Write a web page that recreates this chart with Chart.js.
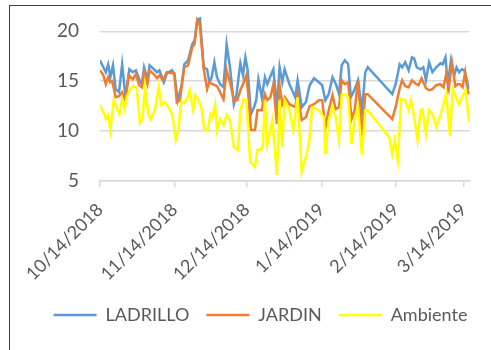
<!DOCTYPE html>
<html><head><meta charset="utf-8">
<script src="https://cdn.jsdelivr.net/npm/chart.js@4/dist/chart.umd.min.js"></script>
<style>
html,body{margin:0;padding:0;background:#fff;}
#wrap{position:relative;width:491px;height:350px;overflow:hidden;}
#frame{position:absolute;left:9px;top:5px;width:600px;height:600px;border-left:1.5px solid #404040;border-top:1.5px solid #404040;pointer-events:none;}
canvas{position:absolute;left:0;top:0;}
</style></head><body>
<div id="wrap"><canvas id="c" width="491" height="350"></canvas><div id="frame"></div></div>
<script>
// x values are days since 10/14/2018
const startDate = '2018-10-14';
const tickLabels = ['10/14/2018','11/14/2018','12/14/2018','1/14/2019','2/14/2019','3/14/2019'];
const seriesNames = ['LADRILLO','JARDIN','Ambiente'];

const ladrilloDays = [0,1.4,2.4,3.4,4.3,5.4,6.5,7.9,9.2,10.6,12.2,13.6,14.9,16.3,17.4,18.3,19.7,20.6,22.4,23.7,24.7,26.5,27.8,29.9,30.9,32.3,33.9,35,36.6,38.3,39.3,40.4,41.5,
 43.1,44.5,45.4,46.4,47.5,48.6,49.9,51.3,52.6,54,55.6,56.7,58.3,59.4,60.4,61.3,62.7,64,64.9,65.8,67.2,68.5,69.5,70.6,72,73.5,74.6,75.7,76.7,78.7,81.1,82.1,83.8,85.5,87.1,88.9,90.9,92.3,
 93.6,95,96.6,98,99.3,100.4,101.7,103.1,104.2,105.8,107.2,108.8,110.2,111.2,121.4,122.8,124.5,125.5,126.8,128.2,129.6,130.5,131.6,133.2,134.3,135.4,136.7,138.1,139.7,141.4,142.4,143.5,144.5,145.8,147.2,148.1,149.2,150.3,151.3,151.9,153.3];
const ladrilloTemps = [17.1,16.4,15.9,16.7,15.4,16.6,14.2,13.9,16.7,13.4,16.2,15.9,16.1,15.2,14.7,16.4,15.2,16.6,16.2,15.9,16.1,14.9,15.8,16.1,15.7,13.1,14.6,16.7,17.1,18.7,19.1,21.2,21.3,
 16.4,16.2,14.9,15.4,16.9,15.4,14.7,14.4,18.7,16.4,12.7,13.7,16.8,15.6,17.4,16.2,11.7,12.4,13.1,15.2,13.4,15.4,14.7,15.4,16.2,12.4,16.4,14.9,16.2,14.7,13.4,15.1,12.4,12.9,14.6,15.3,14.9,14.6,
 13.1,13.7,15.4,14.7,13.7,16.6,17.1,16.7,13.4,14.2,15.1,12.1,15.9,16.4,13.7,14.7,16.7,16.4,16.9,16.1,17.4,17.3,16.4,16.2,16.4,15.1,16.9,15.9,16.4,16.8,16.7,17.4,14.7,17.1,15.6,16.4,15.9,16.2,16.1,15.6,14.2];

const jardinDays = [0,1.4,2.4,3.4,4.3,5.1,6.5,7.9,9.2,10.6,11.9,13.6,14.9,16.3,17.4,18.3,19.7,20.6,22.4,23.7,24.7,26.1,27.8,29.9,30.9,31.9,33.2,35,36.6,38.3,39.3,40.4,41.5,
 43.1,44.5,45.4,46.8,48.6,49.9,51.3,52.6,54.3,55.6,57,58.3,59.4,60.8,61.7,62.7,64.4,65.4,67.2,68.5,69.5,70.8,72,73.5,74.6,75.7,76.8,78.7,81.1,82.1,83.8,85.5,87.1,88.9,90.9,92.3,
 93.6,95,96.6,97.9,99.3,100.4,101.7,103.1,104.5,105.8,107.2,108.8,110.2,111.2,121.4,122.8,124.5,125.5,126.8,128.2,129.6,130.9,132.3,133.6,135.4,136.7,138.1,139.7,141.4,142.7,143.8,144.9,146.2,147.6,148.6,149.5,150.6,151.7,152.6,153.3];
const jardinTemps = [16.1,15.6,14.7,15.4,14.9,15.0,13.4,13.5,13.9,13.1,15.6,15.2,15.7,14.6,14.4,15.9,14.7,16.1,15.7,15.3,15.6,15.1,15.9,15.8,15.8,12.9,13.1,16.4,16.6,18.4,18.7,21.1,20.6,
 16.2,14.2,14.9,14.7,14.5,13.9,13.2,16.1,14.6,13.1,13.1,14.1,14.7,15.6,13.4,10.1,10.1,12.1,12.1,13.7,13.1,13.4,14.7,10.7,14.6,12.7,13.4,12.7,12.4,13.7,11.1,11.4,12.5,12.7,13.1,13.1,
 10.4,12.1,13.6,12.2,12.4,15.1,14.7,14.9,11.2,12.1,15.1,9.4,13.7,13.7,11.2,12.4,14.3,15.1,14.5,14.4,15.1,14.8,14.6,15.3,14.3,14.1,14.2,14.6,14.7,14.4,15.7,14.3,16.9,14.5,14.7,14.7,14.4,15.9,14.1,13.7];

const ambienteDays = [0,1.4,2.4,3.4,4.3,5.7,6.8,8.1,9.2,10.2,11.1,12.5,13.8,15.2,16.6,17.6,18.7,20.1,21,22.8,24.4,25.5,26.9,28.5,30.1,31.5,32.6,33.7,35,36.4,37.3,38.7,39.6,40.7,42.1,
 43.4,44.8,45.9,46.8,47.8,48.6,49.9,51.3,52.6,54,55.6,57.3,58.3,59.7,60.8,62.4,64.4,65.4,66.5,67.6,68.5,69.5,71.6,73.5,74.6,75.7,76.7,78.7,80.3,82.1,83.8,85.5,86.8,88.2,90.9,93,
 93.6,95,96.6,97.9,99.3,100.4,102,103.1,104.5,105.8,107.2,108.8,110.2,111.2,120.1,121.4,122.4,123.7,125.1,126.8,128.2,129.2,130.5,131.9,133.2,134,135.4,136.7,138.1,139.7,141.1,142.4,143.8,145.4,146.5,147.9,149,150.3,151.9,153,153.5];
const ambienteTemps = [12.6,11.9,11.2,11.6,10.1,13.1,12.4,11.7,13.2,12.2,13.4,14.2,14.5,14.4,10.8,11.1,14.4,11.7,11.2,12.1,14.4,12.6,12.9,12.4,11.6,9.1,10.2,12.9,12.8,13.4,14.1,12.1,13.6,13.2,12.4,
 10.1,10.1,11.7,11.4,12.6,10.1,11.2,10.6,11.6,11.1,8.4,8.1,12.1,13.2,13.1,6.9,6.4,8.1,8.1,8.4,13.1,8.7,11.1,5.6,13.1,8.4,13.1,12.1,10.1,13.4,5.9,7.4,8.7,12.4,12.1,11.4,
 7.7,11.1,12.4,11.4,9.1,13.6,13.7,13.4,8.7,11.2,12.4,7.6,12.1,12.1,9.4,7.7,9.1,7.1,13.2,13.1,12.1,13.1,11.4,9.1,12.1,12.2,9.7,12.1,11.7,10.4,11.4,12.4,13.7,9.5,14.2,13.4,12.7,13.4,14.1,11.7,10.9];

const yTicks = [5,10,15,20];

const t0 = Date.UTC(2018,9,14);
function dayOf(label){const p=label.split('/').map(Number);return Math.round((Date.UTC(p[2],p[0]-1,p[1])-t0)/86400000);}
const tickDays = tickLabels.map(dayOf);
const pts = (d,v)=>d.map((x,i)=>({x:x,y:v[i]}));

const FAM = 'Lato, "Open Sans", sans-serif';
const GREY = '#595959';
const GRID = '#d9d9d9';

new Chart(document.getElementById('c'), {
  type:'line',
  data:{datasets:[
    {label:seriesNames[0],data:pts(ladrilloDays,ladrilloTemps),borderColor:'#5B9BD5',backgroundColor:'#5B9BD5',borderWidth:2.5,order:3},
    {label:seriesNames[1],data:pts(jardinDays,jardinTemps),borderColor:'#ED7D31',backgroundColor:'#ED7D31',borderWidth:2.5,order:2},
    {label:seriesNames[2],data:pts(ambienteDays,ambienteTemps),borderColor:'#FFFF00',backgroundColor:'#FFFF00',borderWidth:2.5,order:1}
  ]},
  options:{
    responsive:false, animation:false, devicePixelRatio:1,
    layout:{padding:{top:10,left:30,right:0,bottom:16}},
    elements:{point:{radius:0},line:{borderWidth:2.5,tension:0,fill:false}},
    plugins:{
      tooltip:{enabled:false},
      legend:{position:'bottom',labels:{usePointStyle:true,pointStyle:'line',pointStyleWidth:43,boxHeight:18,font:{family:FAM,size:18},color:GREY,padding:17,
        sort:(a,b)=>a.datasetIndex-b.datasetIndex}}
    },
    scales:{
      x:{type:'linear',min:0,max:153.5,
        afterBuildTicks:s=>{s.ticks=tickDays.map(v=>({value:v}));},
        afterFit:s=>{s.height=108;},
        ticks:{autoSkip:false,minRotation:45,maxRotation:45,font:{family:FAM,size:18},color:GREY,padding:12,
          callback:v=>{const i=tickDays.indexOf(v);return i>=0?tickLabels[i]:'';}},
        grid:{drawOnChartArea:false,drawTicks:true,tickLength:6,color:GRID,lineWidth:1.5},
        border:{display:true,color:GRID,width:1.5}},
      y:{min:5,max:22,
        afterBuildTicks:s=>{s.ticks=yTicks.map(v=>({value:v}));},
        afterFit:s=>{s.width=70;},
        ticks:{font:{family:FAM,size:19},color:GREY,padding:0},
        grid:{color:GRID,lineWidth:1.5,drawTicks:true,tickLength:21,tickColor:'rgba(0,0,0,0)'},
        border:{display:false}},
      yRight:{position:'right',display:true,
        afterFit:s=>{s.width=14;},
        ticks:{display:false},
        grid:{display:false,drawOnChartArea:false},
        border:{display:false}}
    }
  }
});
</script>
</body></html>
